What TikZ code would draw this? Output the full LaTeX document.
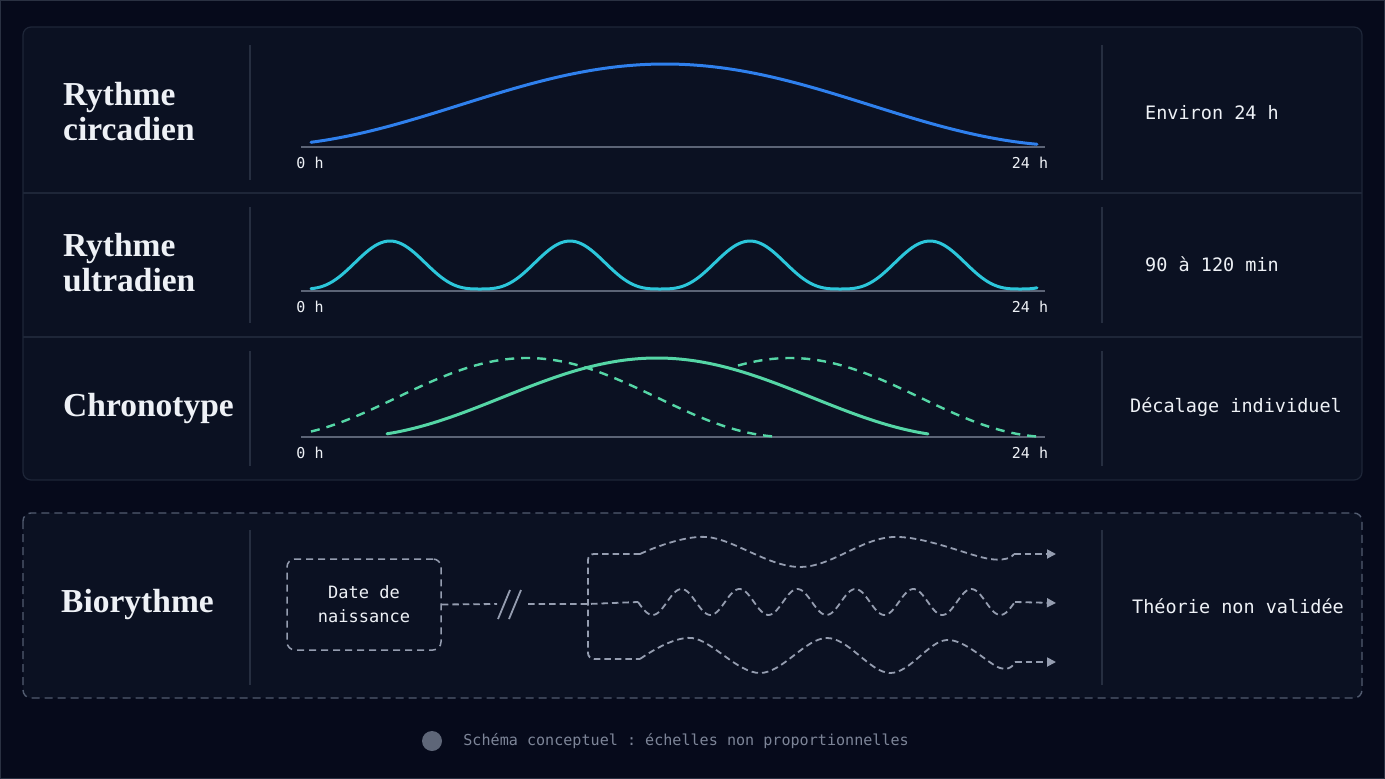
\documentclass[tikz,border=0pt]{standalone}
\usepackage{fontspec}
\setmainfont{Liberation Serif}
\setmonofont{DejaVu Sans Mono}
\usetikzlibrary{arrows.meta,positioning}

\definecolor{bgnavy}{HTML}{060A1B}
\definecolor{framegray}{HTML}{2A3142}
\definecolor{panelfill}{HTML}{0B1122}
\definecolor{panelline}{HTML}{1E2638}
\definecolor{sepline}{HTML}{262E40}
\definecolor{axisgray}{HTML}{5C6476}
\definecolor{circblue}{HTML}{2F80ED}
\definecolor{ultracyan}{HTML}{2CC6DA}
\definecolor{chronogreen}{HTML}{55D6A6}
\definecolor{biogray}{HTML}{959DB0}
\definecolor{bioframe}{HTML}{525C70}
\definecolor{txtwhite}{HTML}{EEF1F6}
\definecolor{footgray}{HTML}{7D8598}
\definecolor{dotgray}{HTML}{5E6678}

\tikzset{
  rowtitle/.style={anchor=west, inner sep=0pt, align=left, text=txtwhite,
    font=\fontsize{33.5}{35}\selectfont\bfseries},
  rowinfo/.style={text=txtwhite, font=\ttfamily\fontsize{18.5}{22}\selectfont},
  ticklabel/.style={text=txtwhite, font=\ttfamily\fontsize{15}{18}\selectfont},
  axisline/.style={axisgray, line width=1.2pt},
  vsep/.style={sepline, line width=1.2pt},
  curve/.style={line width=3pt, line cap=round},
  chronodash/.style={chronogreen, line width=2.4pt, dash pattern=on 9pt off 7pt},
  biowave/.style={biogray, line width=1.8pt, dash pattern=on 6.5pt off 4pt},
  datebox/.style={draw=biogray, line width=1.5pt, dash pattern=on 7pt off 5pt,
    rounded corners=8pt, minimum width=154pt, minimum height=91pt,
    text=txtwhite, align=center, font=\ttfamily\fontsize{17}{24}\selectfont},
  tip/.style={-{Triangle[length=9pt,width=9pt]}}
}

\begin{document}
\begin{tikzpicture}[x=1pt, y=-1pt]
  \useasboundingbox (0,0) rectangle (1385,779);
  \fill[bgnavy] (0,0) rectangle (1385,779);
  \draw[framegray, line width=1pt] (0.5,0.5) rectangle (1384.5,778.5);

  % panels
  \draw[panelline, fill=panelfill, line width=1.2pt, rounded corners=8pt] (23,27) rectangle (1362,480);
  \foreach \y in {193, 337}
    \draw[panelline, line width=1.5pt] (23,\y) -- (1362,\y);
  \draw[bioframe, fill=panelfill, line width=1.4pt, dash pattern=on 8pt off 5pt, rounded corners=8pt] (23,513) rectangle (1362,698);

  % column separators
  \foreach \top/\bot in {45/180, 207/323, 351/466, 530/685}{
    \draw[vsep] (250,\top) -- (250,\bot);
    \draw[vsep] (1102,\top) -- (1102,\bot);
  }

  % axes
  \foreach \y/\n in {147/circ, 291/ultra, 437/chrono}{
    \draw[axisline] (301,\y) -- (1045,\y);
    \node[ticklabel] (zero\n) at (310,\y+16) {0 h};
    \node[ticklabel] (end\n) at (1030,\y+16) {24 h};
  }

  % titles
  \node[rowtitle] (circtitle) at (63,112) {Rythme\\circadien};
  \node[rowtitle] (ultratitle) at (63,263) {Rythme\\ultradien};
  \node[rowtitle] (chronotitle) at (63,408) {Chronotype};
  \node[rowtitle] (biotitle) at (61,604) {Biorythme};

  % right column
  \node[rowinfo] (circinfo) at (1212,113) {Environ 24 h};
  \node[rowinfo] (ultrainfo) at (1212,264) {90 à 120 min};
  \node[rowinfo] (chronoinfo) at (1236,407) {Décalage individuel};
  \node[rowinfo] (bioinfo) at (1238,606) {Théorie non validée};

  % circadien
  \draw[circblue, curve] plot[domain=311:1037, samples=120]
    (\x, {146-82*(1+cos((\x-665)/410*180))/2});

  % ultradien
  \draw[ultracyan, curve] plot[domain=311:1037, samples=240]
    (\x, {289-48*pow(abs(sin(\x-300)),3)});

  % chronotype
  \draw[chronodash] plot[domain=311:778, samples=100]
    (\x, {437-79*(1+cos((\x-527)/260*180))/2});
  \draw[chronodash] plot[domain=738:1037, samples=80]
    (\x, {437-79*(1+cos((\x-790)/260*180))/2});
  \draw[chronogreen, curve] plot[domain=387:928, samples=120]
    (\x, {437-79*(1+cos((\x-657)/310*180))/2});

  % biorythme
  \node[datebox] (date) at (364,604.5) {Date de\\naissance};
  \coordinate (cutl) at (497,604);
  \coordinate (cutr) at (528,604);
  \coordinate (split) at (588,604);
  \coordinate (topstart) at (640,554);
  \coordinate (botstart) at (640,659);
  \coordinate (midstart) at (638,602);
  \coordinate (topend) at (1014,554);
  \coordinate (midend) at (1015,602);
  \coordinate (botend) at (1015,662);
  \coordinate (toptip) at (1056,554);
  \coordinate (midtip) at (1056,603);
  \coordinate (bottip) at (1056,662);

  \draw[biowave] (date.east) -- (cutl);
  \draw[biogray, line width=1.8pt] (498,619) -- (510,590);
  \draw[biogray, line width=1.8pt] (509,619) -- (521,590);
  \draw[biowave] (cutr) -- (split) -- (midstart);
  \draw[biowave, rounded corners=6pt] (topstart) -- (split |- topstart) -- (split |- botstart) -- (botstart);

  \draw[biowave] plot[smooth, tension=0.6] coordinates
    {(640,554) (707,537) (800,567) (893,537) (990,559) (1014,554)};
  \draw[biowave] plot[domain=638:1015, samples=200]
    (\x, {602+13*sin(6.21*(\x-638))});
  \draw[biowave] plot[smooth, tension=0.6] coordinates
    {(640,659) (692,638) (760,673) (827,638) (890,673) (947,640) (1000,668) (1015,662)};

  \draw[biowave, tip] (topend) -- (toptip);
  \draw[biowave, tip] (midend) -- (midtip);
  \draw[biowave, tip] (botend) -- (bottip);

  % footnote
  \node[circle, fill=dotgray, minimum size=20pt, inner sep=0pt] (dot) at (432,741) {};
  \node[right=21pt of dot, inner sep=0pt, text=footgray, font=\ttfamily\fontsize{15.1}{18}\selectfont] (note)
    {Schéma conceptuel : échelles non proportionnelles};
\end{tikzpicture}
\end{document}
